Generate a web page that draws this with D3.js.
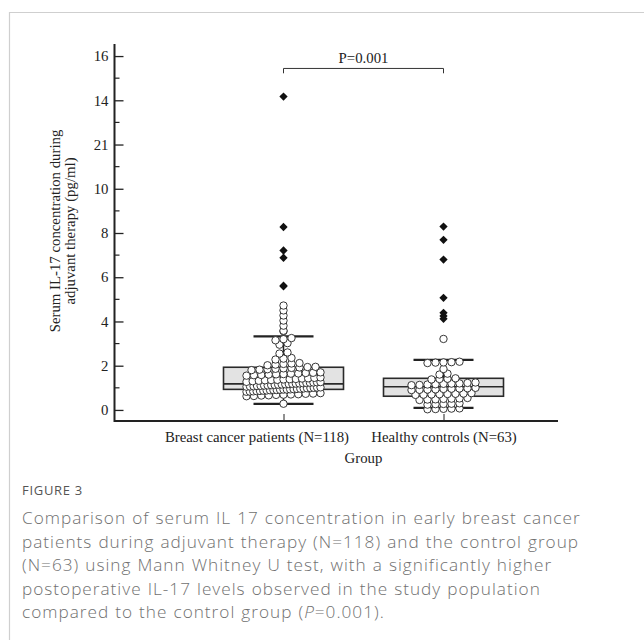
<!DOCTYPE html>
<html>
<head>
<meta charset="utf-8">
<script src="https://cdn.jsdelivr.net/npm/d3@7"></script>
<style>
  body { margin: 0; background: #fff; }
  svg text { font-family: "Liberation Serif", "DejaVu Serif", serif; fill: #222; }
  svg text.cap { font-family: "Open Sans", "Noto Sans", sans-serif; fill: #707070; font-weight: 300; }
</style>
</head>
<body>
<div id="chart"></div>
<script>
// categories
let groups = ["Breast cancer patients (N=118)", "Healthy controls (N=63)"];

// open circles
let patientsDots = [0.28,
  0.62,0.63,0.65,0.66,0.68,0.69,0.70,0.71,0.73,0.74,0.76,
  0.82,0.83,0.84,0.85,0.86,0.87,0.88,0.89,0.90,0.90,0.91,0.92,0.92,0.93,0.94,0.95,0.96,0.97,0.98,0.99,1.00,1.01,1.02,
  1.05,1.06,1.07,1.08,1.09,1.10,1.11,1.12,1.13,1.14,1.15,1.16,1.17,1.18,1.19,1.20,1.21,1.22,1.23,1.24,1.25,1.26,1.27,
  1.30,1.32,1.34,1.35,1.36,1.38,1.39,1.40,1.42,1.43,1.45,1.47,
  1.55,1.57,1.58,1.60,1.61,1.62,1.64,1.65,1.67,1.68,1.70,
  1.80,1.82,1.84,1.86,1.88,1.90,1.92,1.94,1.95,
  2.02,2.05,2.08,2.10,2.12,
  2.28,2.32,2.35,
  2.55,2.60,
  2.95,3.02,
  3.15,3.20,3.25,
  3.56,3.58,
  3.81,4.04,4.27,4.50,4.72];
let controlsDots = [0.03,0.04,0.05,0.06,0.07,
  0.24,0.26,0.27,0.28,0.30,
  0.45,0.47,0.48,0.50,0.51,0.52,0.54,
  0.68,0.69,0.70,0.71,0.72,0.73,0.74,0.76,
  0.90,0.91,0.92,0.93,0.95,0.96,0.97,0.98,1.00,
  1.12,1.13,1.15,1.16,1.18,1.19,1.20,1.22,1.24,
  1.38,1.40,1.41,1.43,
  1.60,1.64,
  1.85,
  2.12,2.14,2.15,2.16,2.18,
  3.21];

// outliers (black diamonds)
let patientsOut = [14.17, 8.27, 7.21, 6.88, 5.59, 5.62];
let controlsOut = [8.29, 7.69, 6.80, 5.07, 4.39, 4.25, 4.12];

// box stats: lower whisker, q1, median, q3, upper whisker
let patientsBox = [0.27, 0.93, 1.18, 1.93, 3.33];
let controlsBox = [0.09, 0.62, 1.05, 1.43, 2.26];

let yTicks = [0, 2, 4, 6, 8, 10, 12, 14, 16];
let yTickLabels = ["0", "2", "4", "6", "8", "10", "21", "14", "16"];
let yMinor = [1, 3, 5, 7, 9, 11, 13, 15];

let captionLines = [
  "Comparison of serum IL 17 concentration in early breast cancer",
  "patients during adjuvant therapy (N=118) and the control group",
  "(N=63) using Mann Whitney U test, with a significantly higher",
  "postoperative IL-17 levels observed in the study population"
];

let svg = d3.select("#chart").append("svg")
    .attr("width", 644)
    .attr("height", 642);

// frame
svg.append("path")
    .attr("d", "M9.5,640V12.5H644")
    .attr("fill", "none")
    .attr("stroke", "#cfcfcf")
    .attr("stroke-width", 1.2);

let y = d3.scaleLinear().domain([-0.5, 16.5]).range([421, 45]);
let x = d3.scalePoint().domain(groups).range([283.5, 443.5]);
let axisLeftX = 114.5, axisRightX = 558;
let fs = 14.8;

// y axis
let yAxis = d3.axisLeft(y)
    .tickValues(yTicks)
    .tickSize(-9)
    .tickPadding(6)
    .tickFormat((d, i) => yTickLabels[i]);
let gy = svg.append("g").attr("transform", `translate(${axisLeftX},0)`).call(yAxis);
gy.attr("font-family", null).attr("font-size", null);
gy.select(".domain").remove();
gy.selectAll(".tick line").attr("stroke", "#222").attr("stroke-width", 1.3);
gy.selectAll(".tick text").attr("font-size", fs).attr("fill", "#222");

svg.append("g").selectAll("line").data(yMinor).enter().append("line")
    .attr("x1", axisLeftX).attr("x2", axisLeftX + 5)
    .attr("y1", d => y(d)).attr("y2", d => y(d))
    .attr("stroke", "#222").attr("stroke-width", 1.2);

// x axis
let xAxis = d3.axisBottom(x).tickSize(-7).tickPadding(10);
let gx = svg.append("g").attr("transform", "translate(0,421)").call(xAxis);
gx.attr("font-family", null).attr("font-size", null);
gx.select(".domain").remove();
gx.selectAll(".tick line").attr("stroke", "#222").attr("stroke-width", 1);
gx.selectAll(".tick text").attr("font-size", fs).attr("fill", "#222");
// first label is pushed left so the two do not run together
gx.selectAll(".tick text").filter(d => d === groups[0])
    .attr("text-anchor", "end").attr("x", 65);

svg.append("path")
    .attr("d", `M${axisLeftX},44V421H${axisRightX}`)
    .attr("fill", "none").attr("stroke", "#222").attr("stroke-width", 2);

svg.append("text")
    .attr("x", (x(groups[0]) + x(groups[1])) / 2).attr("y", 463)
    .attr("text-anchor", "middle").attr("font-size", fs)
    .text("Group");

let yt = svg.append("text")
    .attr("transform", "translate(0,231) rotate(-90)")
    .attr("text-anchor", "middle").attr("font-size", fs);
yt.append("tspan").attr("x", 0).attr("y", 60).text("Serum IL-17 concentration during");
yt.append("tspan").attr("x", 0).attr("y", 75).text("adjuvant therapy (pg/ml)");

// boxes
let boxW = 120, capW = 60;
let boxData = [
  {g: groups[0], s: patientsBox},
  {g: groups[1], s: controlsBox}
];
let boxes = svg.append("g").selectAll("g").data(boxData).enter().append("g");
boxes.append("line")
    .attr("x1", d => x(d.g)).attr("x2", d => x(d.g))
    .attr("y1", d => y(d.s[3])).attr("y2", d => y(d.s[4]))
    .attr("stroke", "#222").attr("stroke-width", 1.5);
boxes.append("line")
    .attr("x1", d => x(d.g)).attr("x2", d => x(d.g))
    .attr("y1", d => y(d.s[1])).attr("y2", d => y(d.s[0]))
    .attr("stroke", "#222").attr("stroke-width", 1.5);
boxes.append("rect")
    .attr("x", d => x(d.g) - boxW / 2).attr("width", boxW)
    .attr("y", d => y(d.s[3])).attr("height", d => y(d.s[1]) - y(d.s[3]))
    .attr("fill", "#e3e3e3").attr("stroke", "#2a2a2a").attr("stroke-width", 1.6);
boxes.append("line")
    .attr("x1", d => x(d.g) - boxW / 2).attr("x2", d => x(d.g) + boxW / 2)
    .attr("y1", d => y(d.s[2])).attr("y2", d => y(d.s[2]))
    .attr("stroke", "#2a2a2a").attr("stroke-width", 1.6);
boxes.selectAll(".cap").data(d => [d.s[0], d.s[4]].map(v => ({g: d.g, v: v})))
    .enter().append("line").attr("class", "cap")
    .attr("x1", d => x(d.g) - capW / 2).attr("x2", d => x(d.g) + capW / 2)
    .attr("y1", d => y(d.v)).attr("y2", d => y(d.v))
    .attr("stroke", "#222").attr("stroke-width", 2.2);

// dot layout: values binned in rows, each row spread around the center
function rowLayout(vals, g) {
  let step = 0.23, gap = 8, maxSpan = 74;
  let rows = d3.group(vals, v => Math.round(v / step));
  let out = [];
  for (let [k, vs] of rows) {
    let n = vs.length;
    let s = n > 1 ? Math.min(gap, maxSpan / (n - 1)) : 0;
    vs.forEach((v, i) => out.push({g: g, v: v, dx: (i - (n - 1) / 2) * s}));
  }
  return out;
}
let dots = rowLayout(patientsDots, groups[0]).concat(rowLayout(controlsDots, groups[1]));
svg.append("g").selectAll("circle").data(dots).enter().append("circle")
    .attr("cx", d => x(d.g) + d.dx)
    .attr("cy", d => y(d.v))
    .attr("r", 3.7)
    .attr("fill", "#fff")
    .attr("stroke", "#222")
    .attr("stroke-width", 0.9);

let outs = patientsOut.map(v => ({g: groups[0], v: v}))
    .concat(controlsOut.map(v => ({g: groups[1], v: v})));
let diamond = d3.symbol().type(d3.symbolDiamond2 || d3.symbolDiamond).size(44);
svg.append("g").selectAll("path").data(outs).enter().append("path")
    .attr("d", diamond)
    .attr("transform", d => `translate(${x(d.g)},${y(d.v)})`)
    .attr("fill", "#111");

// significance bracket
let by = y(15.44), bt = y(15.22);
svg.append("path")
    .attr("d", `M${x(groups[0])},${bt}V${by}H${x(groups[1])}V${bt}`)
    .attr("fill", "none").attr("stroke", "#333").attr("stroke-width", 1);
svg.append("text")
    .attr("x", (x(groups[0]) + x(groups[1])) / 2).attr("y", by - 5)
    .attr("text-anchor", "middle").attr("font-size", fs)
    .text("P=0.001");

// caption
svg.append("text").attr("class", "cap")
    .attr("x", 22).attr("y", 495)
    .attr("font-size", 13).attr("letter-spacing", 0.7)
    .style("fill", "#555").style("font-weight", 400)
    .text("FIGURE 3");
svg.append("g").selectAll("text").data(captionLines).enter().append("text")
    .attr("class", "cap")
    .attr("x", 22).attr("y", (d, i) => 524 + i * 23.6)
    .attr("font-size", 17.2).attr("letter-spacing", 1).attr("word-spacing", 0.6)
    .text(d => d);
let last = svg.append("text").attr("class", "cap")
    .attr("x", 22).attr("y", 524 + 4 * 23.6)
    .attr("font-size", 17.2).attr("letter-spacing", 1).attr("word-spacing", 0.6);
last.append("tspan").text("compared to the control group (");
last.append("tspan").attr("font-style", "italic").text("P");
last.append("tspan").text("=0.001).");
</script>
</body>
</html>
